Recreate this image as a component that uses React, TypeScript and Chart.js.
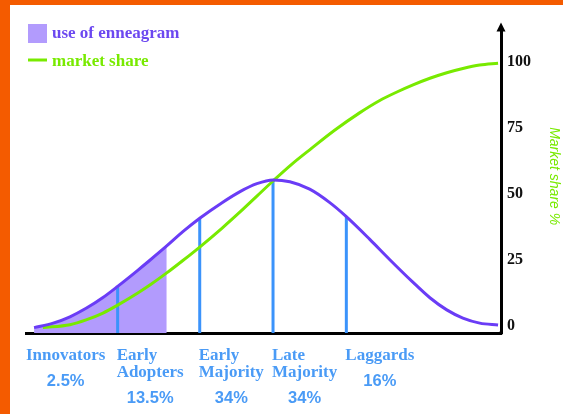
import React, { useEffect, useRef } from "react";
import { Chart, registerables } from "chart.js";

Chart.register(...registerables);

// ---- data (x in standard deviations from the mean, y on the % market share scale) ----
const purpleX = [-3.26, -3.0, -2.77, -2.55, -2.32, -2.12, -1.85, -1.68, -1.45, -1.23, -1.0, -0.69, -0.45, -0.22, 0, 0.23, 0.5, 0.77, 1.0, 1.32, 1.59, 1.9, 2.14, 2.37, 2.59, 2.82, 3.07];
const purpleY = [-0.6, 1.1, 3.5, 6.7, 10.8, 15.0, 21.0, 24.9, 30.3, 35.7, 40.8, 46.8, 50.9, 53.9, 55.3, 54.6, 51.8, 46.8, 41.4, 32.8, 25.2, 16.8, 10.7, 6.1, 3.0, 1.1, 0.4];

const greenX = [-3.14, -2.77, -2.55, -2.32, -2.12, -1.85, -1.68, -1.45, -1.23, -1.0, -0.69, -0.45, -0.22, 0, 0.25, 0.5, 0.84, 1.18, 1.45, 1.69, 1.91, 2.14, 2.37, 2.59, 2.82, 3.07];
const greenY = [-0.6, 0.5, 2.3, 4.9, 7.9, 12.4, 15.5, 20.1, 24.8, 29.9, 37.2, 43.2, 49.2, 54.9, 61.1, 66.7, 74.1, 80.7, 85.3, 88.6, 91.3, 93.8, 95.9, 97.5, 98.8, 99.5];

const shadedUntil = -1.45;

const boundaries = [-2.12, -1.0, 0, 1.0];
const boundaryTops = [15.0, 40.8, 55.3, 41.4];

const categories = [["Innovators"], ["Early", "Adopters"], ["Early", "Majority"], ["Late", "Majority"], ["Laggards"]];
const shares = ["2.5%", "13.5%", "34%", "34%", "16%"];
const labelStarts = [-3.37, -2.12, -1.0, 0, 1.0];

const yTicks = [0, 25, 50, 75, 100];
const xMin = -3.37;
const xMax = 3.11;
const yMin = -2.65;
const yMax = 111.7;

const legendItems = ["use of enneagram", "market share"];
const yTitle = "Market share %";

// ---- styles ----
const PURPLE = "#6a3cf6";
const PURPLE_TEXT = "#6c48f0";
const FILL = "#b29bfd";
const GREEN = "#78ea00";
const BLUE = "#3b93fb";
const BLUE_TEXT = "#4a9bf6";
const ORANGE = "#f45b00";
const SERIF = '"Liberation Serif", "Times New Roman", serif';
const SANS = '"Liberation Sans", Arial, sans-serif';

const pts = (xs: number[], ys: number[]) => xs.map((x, i) => ({ x, y: ys[i] }));

const decorPlugin = {
  id: "decor",
  afterDraw(chart: any) {
    const { ctx, chartArea } = chart;
    const xs = chart.scales.x;
    const ys = chart.scales.y;
    ctx.save();
    // arrow head on the y axis + corner
    const ax = ys.left;
    ctx.fillStyle = "#000";
    ctx.beginPath();
    ctx.moveTo(ax, chartArea.top - 8.5);
    ctx.lineTo(ax - 4.5, chartArea.top + 0.5);
    ctx.lineTo(ax + 4.5, chartArea.top + 0.5);
    ctx.closePath();
    ctx.fill();
    ctx.fillRect(ax - 1.5, chartArea.bottom - 1.5, 3, 3);

    // legend
    ctx.fillStyle = FILL;
    ctx.fillRect(18, 19, 19, 19);
    ctx.strokeStyle = GREEN;
    ctx.lineWidth = 3;
    ctx.beginPath();
    ctx.moveTo(18, 55);
    ctx.lineTo(37, 55);
    ctx.stroke();
    ctx.textAlign = "left";
    ctx.textBaseline = "alphabetic";
    ctx.font = `bold 17px ${SERIF}`;
    ctx.fillStyle = PURPLE_TEXT;
    ctx.fillText(legendItems[0], 42, 33);
    ctx.fillStyle = GREEN;
    ctx.fillText(legendItems[1], 42, 61);

    // category labels
    const base = chartArea.bottom;
    categories.forEach((lines, i) => {
      const left = i === 0 ? chartArea.left : xs.getPixelForValue(labelStarts[i]) - 1;
      ctx.font = `bold 17px ${SERIF}`;
      ctx.fillStyle = BLUE_TEXT;
      ctx.textAlign = "left";
      let w = 0;
      lines.forEach((t, j) => {
        ctx.fillText(t, left, base + 27 + j * 17);
        w = Math.max(w, ctx.measureText(t).width);
      });
      ctx.font = `bold 16.5px ${SANS}`;
      ctx.textAlign = "center";
      ctx.fillText(shares[i], left + w / 2, base + 27 + (lines.length - 1) * 17 + 25.5);
    });
    ctx.restore();
  },
};

export default function App() {
  const ref = useRef<HTMLCanvasElement | null>(null);
  useEffect(() => {
    if (!ref.current) return;
    const blueSets = boundaries.map((b, i) => ({
      data: [
        { x: b, y: yMin },
        { x: b, y: boundaryTops[i] },
      ],
      borderColor: BLUE,
      borderWidth: 3,
      pointRadius: 0,
      fill: false,
      borderCapStyle: "butt",
    }));
    const fillPts = pts(purpleX, purpleY).filter((p) => p.x <= shadedUntil);
    const chart = new Chart(ref.current, {
      type: "line",
      data: {
        datasets: [
          {
            data: pts(purpleX, purpleY),
            borderColor: PURPLE,
            borderWidth: 3,
            pointRadius: 0,
            cubicInterpolationMode: "monotone",
            fill: false,
          },
          {
            data: pts(greenX, greenY),
            borderColor: GREEN,
            borderWidth: 3,
            pointRadius: 0,
            cubicInterpolationMode: "monotone",
            fill: false,
          },
          ...blueSets,
          {
            data: fillPts,
            borderWidth: 0,
            borderColor: "rgba(0,0,0,0)",
            backgroundColor: FILL,
            pointRadius: 0,
            cubicInterpolationMode: "monotone",
            fill: "start",
          },
        ] as any,
      },
      options: {
        animation: false,
        responsive: false,
        devicePixelRatio: 1,
        layout: { padding: { left: 16, top: 26, right: 0, bottom: 0 } },
        plugins: { legend: { display: false }, tooltip: { enabled: false } },
        scales: {
          x: {
            type: "linear",
            min: xMin,
            max: xMax,
            grid: { display: false, drawTicks: false },
            ticks: { display: false },
            border: { display: true, color: "#000", width: 3 },
            afterFit: (s: any) => {
              s.height = 81;
            },
          },
          y: {
            type: "linear",
            position: "right",
            min: yMin,
            max: yMax,
            grid: { display: false, drawTicks: false },
            border: { display: true, color: "#000", width: 3 },
            afterBuildTicks: (s: any) => {
              s.ticks = yTicks.map((v) => ({ value: v }));
            },
            ticks: {
              color: "#111",
              padding: 6,
              font: { family: SERIF, size: 16, weight: "bold" },
            },
            title: {
              display: true,
              text: yTitle + "\u00a0\u00a0\u00a0",
              color: GREEN,
              font: { family: SANS, size: 14, style: "italic" },
              padding: { top: 1, bottom: 0 },
            },
            afterFit: (s: any) => {
              s.width = 62;
            },
          },
        },
      } as any,
      plugins: [decorPlugin],
    });
    return () => chart.destroy();
  }, []);
  return (
    <div
      style={{
        position: "absolute",
        left: 0,
        top: 0,
        width: 563,
        height: 414,
        boxSizing: "border-box",
        borderLeft: `10px solid ${ORANGE}`,
        borderTop: `5px solid ${ORANGE}`,
        background: "#fff",
      }}
    >
      <canvas ref={ref} width={553} height={409} style={{ display: "block" }} />
    </div>
  );
}
